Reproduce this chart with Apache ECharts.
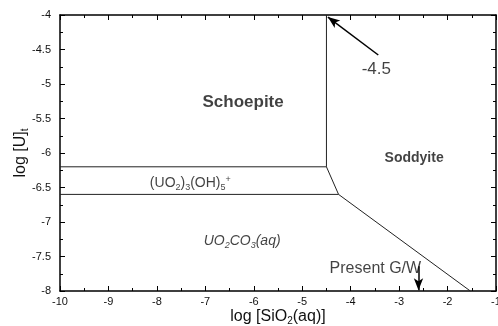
<!DOCTYPE html>
<html><head><meta charset="utf-8">
<script src="https://cdn.jsdelivr.net/npm/echarts@6/dist/echarts.min.js"></script>
<style>html,body{margin:0;padding:0;background:#fff}#c{width:498px;height:326px}</style>
</head><body><div id="c"></div>
<script>
// Phase boundary lines, [log SiO2, log U]
const schoepiteSoddyite = [[-4.5, -4], [-4.5, -6.2]];
const schoepiteHydroxo = [[-10, -6.2], [-4.5, -6.2]];
const hydroxoSoddyite = [[-4.5, -6.2], [-4.25, -6.6]];
const hydroxoCarbonate = [[-10, -6.6], [-4.25, -6.6]];
const carbonateSoddyite = [[-4.25, -6.6], [-1.53, -8]];
// Region labels positions
const labelSchoepite = [-6.22, -5.27];
const labelSoddyite = [-2.69, -6.08];
const labelHydroxo = [-7.31, -6.43];
const labelCarbonate = [-6.24, -7.27];
const labelBoundary = [-3.47, -4.78];
const labelPresent = [-3.49, -7.67];
// Arrows
const arrowBoundary = [[-3.43, -4.58], [-4.47, -4.03]];
const arrowPresent = [[-2.6, -7.64], [-2.6, -7.99]];

const lineColor = '#222';
const font = 'Liberation Sans, Arial, sans-serif';

function boundary(data) {
  return { type: 'line', data: data, symbol: 'none', silent: true,
    lineStyle: { color: lineColor, width: 1 }, z: 3 };
}
function textLabel(pos, formatter, style) {
  return { type: 'scatter', data: [pos], symbolSize: 0, silent: true,
    label: Object.assign({ show: true, position: 'inside', formatter: formatter,
      color: '#111', fontFamily: font }, style) };
}
const subRich = {
  a: { fontSize: 14, fontFamily: font, color: '#111', lineHeight: 18 },
  s: { fontSize: 9, fontFamily: font, color: '#111', padding: [9, 0, 0, 0], lineHeight: 18 },
  p: { fontSize: 9, fontFamily: font, color: '#111', padding: [0, 0, 7, 0], lineHeight: 18 },
  ai: { fontSize: 14, fontStyle: 'italic', fontFamily: font, color: '#111', lineHeight: 18 },
  si: { fontSize: 9, fontStyle: 'italic', fontFamily: font, color: '#111', padding: [9, 0, 0, 0], lineHeight: 18 }
};
const nameRich = {
  a: { fontSize: 16, fontFamily: font, color: '#111', lineHeight: 18 },
  s: { fontSize: 10, fontFamily: font, color: '#111', padding: [8, 0, 0, 0], lineHeight: 18 }
};

function axisX(pos, showLabel) {
  return { type: 'value', position: pos, min: -10, max: -1, interval: 1,
    axisLine: { show: true, onZero: false, lineStyle: { color: '#000', width: 1.5 } },
    axisTick: { show: true, inside: true, length: 5, lineStyle: { color: '#000', width: 1 } },
    minorTick: { show: true, splitNumber: 2, length: 3, lineStyle: { color: '#000', width: 1 } },
    splitLine: { show: false }, minorSplitLine: { show: false },
    axisLabel: { show: showLabel, fontSize: 11, color: '#111', fontFamily: font, margin: 5 },
    name: showLabel ? '{a|log [SiO}{s|2}{a|(aq)]}' : '',
    nameLocation: 'middle', nameGap: 17, nameMoveOverlap: false,
    nameTextStyle: { rich: nameRich }
  };
}
function axisY(pos, showLabel) {
  return { type: 'value', position: pos, min: -8, max: -4, interval: 0.5,
    axisLine: { show: true, onZero: false, lineStyle: { color: '#000', width: 1.5 } },
    axisTick: { show: true, inside: true, length: 5, lineStyle: { color: '#000', width: 1 } },
    minorTick: { show: true, splitNumber: 2, length: 3, lineStyle: { color: '#000', width: 1 } },
    splitLine: { show: false }, minorSplitLine: { show: false },
    axisLabel: { show: showLabel, fontSize: 11, color: '#111', fontFamily: font, margin: 9 },
    name: showLabel ? '{a|log [U]}{s|t}' : '',
    nameLocation: 'middle', nameGap: 30, nameRotate: 90, nameMoveOverlap: false,
    nameTextStyle: { rich: nameRich }
  };
}

const chart = echarts.init(document.getElementById('c'), null, { renderer: 'canvas' });
chart.setOption({
  animation: false,
  backgroundColor: '#fff',
  grid: { left: 60, right: 2, top: 15, bottom: 35, containLabel: false, outerBoundsMode: 'none' },
  xAxis: [axisX('bottom', true), axisX('top', false)],
  yAxis: [axisY('left', true), axisY('right', false)],
  series: [
    boundary(schoepiteSoddyite),
    boundary(schoepiteHydroxo),
    boundary(hydroxoSoddyite),
    boundary(hydroxoCarbonate),
    boundary(carbonateSoddyite),
    textLabel(labelSchoepite, 'Schoepite', { fontSize: 17, fontWeight: 'bold' }),
    textLabel(labelSoddyite, 'Soddyite', { fontSize: 14, fontWeight: 'bold' }),
    textLabel(labelHydroxo, '{a|(UO}{s|2}{a|)}{s|3}{a|(OH)}{s|5}{p|+}', { rich: subRich }),
    textLabel(labelCarbonate, '{ai|UO}{si|2}{ai|CO}{si|3}{ai|(aq)}', { rich: subRich }),
    textLabel(labelBoundary, '-4.5', { fontSize: 17 }),
    textLabel(labelPresent, 'Present G/W', { fontSize: 16 }),
    { type: 'line', data: [], silent: true,
      markLine: { silent: true, symbol: ['none', 'arrow'], symbolSize: [7, 12], label: { show: false },
        lineStyle: { color: '#000', width: 1.5, type: 'solid' },
        data: [
          [{ coord: arrowBoundary[0] }, { coord: arrowBoundary[1] }],
          [{ coord: arrowPresent[0] }, { coord: arrowPresent[1] }]
        ] } }
  ]
});
</script></body></html>
